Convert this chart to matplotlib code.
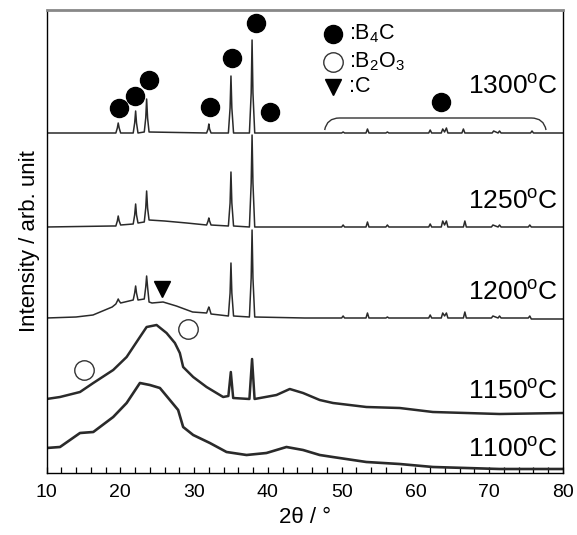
import numpy as np
import matplotlib
matplotlib.use("Agg")
import matplotlib.pyplot as plt
from matplotlib.path import Path
from matplotlib.patches import PathPatch

plt.rcParams['font.family'] = ['Liberation Sans', 'DejaVu Sans']
plt.rcParams['mathtext.fontset'] = 'custom'
plt.rcParams['mathtext.rm'] = 'Liberation Sans'
plt.rcParams['mathtext.it'] = 'Liberation Sans:italic'
plt.rcParams['mathtext.bf'] = 'Liberation Sans:bold'

# ---------------- data (2theta in deg, intensity in arbitrary offset units) -------------
trace_1300 = [(10, 340), (19.4, 340), (19.6, 345), (19.72, 350), (19.85, 345), (20.05, 340),
              (21.75, 340), (21.95, 350), (22.08, 362), (22.2, 350), (22.4, 340),
              (23.25, 341), (23.45, 355), (23.57, 374), (23.7, 355), (23.9, 341),
              (31.7, 340), (31.9, 344), (32.0, 349), (32.1, 344), (32.3, 340),
              (34.65, 340), (34.88, 365), (35.0, 397), (35.12, 365), (35.35, 340),
              (37.5, 340), (37.74, 380), (37.86, 433), (37.98, 380), (38.22, 340),
              (50.0, 340), (50.2, 341), (50.4, 340), (53.3, 340), (53.5, 344), (53.7, 340),
              (56.0, 340), (56.2, 341), (56.4, 340), (61.8, 340), (62.0, 343), (62.2, 340),
              (63.5, 340), (63.7, 344), (63.95, 341), (64.2, 345), (64.4, 340), (66.3, 340), (66.5, 344),
              (66.7, 340), (70.4, 340), (70.6, 342), (71.2, 340), (71.4, 342), (71.6, 340),
              (75.6, 340), (75.8, 342), (76.0, 340), (80, 340)]

trace_1250 = [(10, 246), (18.9, 247), (19.4, 247), (19.6, 252), (19.72, 257), (19.85, 252), (20.05, 248),
              (21.75, 249), (21.95, 258), (22.08, 269), (22.2, 258), (22.4, 250),
              (23.25, 251), (23.45, 265), (23.57, 282), (23.7, 265), (23.9, 253), (26.0, 252), (29.0, 250),
              (31.7, 248), (31.9, 252), (32.0, 255), (32.1, 252), (32.3, 248),
              (34.65, 247), (34.88, 270), (35.0, 301), (35.12, 270), (35.35, 247),
              (37.5, 246), (37.74, 290), (37.86, 338), (37.98, 290), (38.22, 246), (45.0, 246),
              (50.0, 246), (50.2, 248), (50.4, 246), (53.3, 246), (53.5, 251), (53.7, 246),
              (56.0, 246), (56.2, 248), (56.4, 246), (61.8, 246), (62.0, 249), (62.2, 246),
              (63.5, 246), (63.7, 252), (63.95, 248), (64.2, 252), (64.4, 246), (66.5, 246), (66.7, 252),
              (66.9, 246), (70.3, 246), (70.5, 248), (71.2, 246), (71.4, 248), (71.6, 246),
              (75.3, 246), (75.5, 248), (75.7, 246), (80, 246)]

trace_1200 = [(10, 155), (14.0, 156), (16.3, 158), (18.9, 166), (19.4, 169), (19.6, 172), (19.72, 174),
              (19.85, 172), (20.05, 170), (21.75, 173), (21.95, 180), (22.08, 187), (22.2, 180), (22.4, 173),
              (23.25, 174), (23.45, 186), (23.57, 197), (23.7, 186), (23.9, 171),
              (24.3, 170), (25.8, 171), (27.6, 167), (29.8, 161), (31.7, 160), (31.9, 164), (32.0, 166),
              (32.1, 164), (32.3, 159), (33.5, 158), (34.65, 157), (34.88, 180), (35.0, 210), (35.12, 180),
              (35.35, 157), (37.5, 156), (37.74, 195), (37.86, 243), (37.98, 195), (38.22, 156), (45.0, 155),
              (50.0, 155), (50.2, 157), (50.4, 155), (53.3, 155), (53.5, 160), (53.7, 155),
              (56.0, 155), (56.2, 156), (56.4, 155), (61.8, 155), (62.0, 158), (62.2, 155),
              (63.5, 155), (63.7, 160), (63.95, 157), (64.2, 160), (64.4, 155), (66.5, 155), (66.7, 161),
              (66.9, 155), (70.3, 155), (70.5, 157), (71.2, 155), (71.4, 157), (71.6, 155),
              (75.3, 155), (75.5, 157), (75.7, 154), (80, 154)]

trace_1150 = [(10, 74), (11.83, 76), (14.54, 81), (16.34, 90), (19.04, 103), (20.86, 116), (22.66, 136),
              (23.57, 146), (24.92, 148), (26.27, 140), (27.40, 130), (28.07, 120), (28.52, 106),
              (29.88, 96), (31.69, 86), (33.94, 76), (34.65, 77), (34.98, 101), (35.3, 75),
              (37.5, 74), (37.86, 114), (38.2, 74), (41.17, 78), (42.97, 84), (44.77, 80),
              (47.03, 73), (48.83, 70), (53.35, 66), (57.86, 65), (62.37, 61), (66.89, 60),
              (71.40, 59), (80, 60)]

trace_1100 = [(10, 25), (11.83, 26), (14.54, 40), (16.34, 41), (19.04, 56), (20.86, 70), (22.66, 90),
              (24.01, 88), (25.37, 85), (26.72, 73), (27.84, 63), (28.52, 46), (29.88, 38),
              (32.14, 30), (34.40, 21), (37.11, 18), (39.81, 20), (42.52, 26), (44.77, 23),
              (47.03, 18), (48.79, 16), (53.35, 11), (57.86, 9), (62.37, 6), (66.89, 5),
              (71.40, 4), (80, 4)]

traces = [trace_1300, trace_1250, trace_1200, trace_1150, trace_1100]
trace_widths = [1.1, 1.1, 1.1, 1.8, 1.9]
temp_labels = ['1300', '1250', '1200', '1150', '1100']
temp_label_y = [386, 271, 180, 81, 23]

b4c_marks_x = [19.86, 21.98, 23.92, 32.14, 35.2, 38.46, 40.35, 63.5]
b4c_marks_y = [365, 377, 393, 366, 415, 450, 361, 371]
b2o3_marks_x = [15.08, 29.2]
b2o3_marks_y = [103, 144]
c_marks_x = [25.6]
c_marks_y = [184]

legend_labels = [r':B$_4$C', r':B$_2$O$_3$', ':C']
legend_y = [439, 411, 386]

xticks = [10, 20, 30, 40, 50, 60, 70, 80]

# ---------------- figure -------------
fig = plt.figure(figsize=(5.77, 5.35), dpi=100)
ax = fig.add_axes([46.5 / 577, 1 - 473 / 535, (563 - 46.5) / 577, (473 - 10) / 535])

for tr, lw in zip(traces, trace_widths):
    a = np.array(tr)
    ax.plot(a[:, 0], a[:, 1], color='#2a2a2a', lw=lw, solid_joinstyle='round')

ax.plot(b4c_marks_x, b4c_marks_y, 'o', ms=13, color='black', mec='black')
ax.plot(b2o3_marks_x, b2o3_marks_y, 'o', ms=14, mfc='white', mec='#333333', mew=1.0)
ax.plot(c_marks_x, c_marks_y, 'v', ms=11, color='black')

# legend
ax.plot([48.83], [legend_y[0]], 'o', ms=13, color='black')
ax.plot([48.83], [legend_y[1]], 'o', ms=14, mfc='white', mec='#333333', mew=1.0)
ax.plot([48.83], [legend_y[2]], 'v', ms=11, color='black')
for lab, yy in zip(legend_labels, legend_y):
    ax.text(51.0, yy, lab, fontsize=15.5, va='center', ha='left')

for lab, yy in zip(temp_labels, temp_label_y):
    ax.text(79.3, yy, lab + r'$^{\rm o}$C', fontsize=19, va='center', ha='right')

# brace over high-angle peaks
x0, x1, ytop, ybot = 47.7, 77.7, 355, 343
verts = [(x0, ybot), (x0 + 0.3, ytop), (x0 + 2.0, ytop), (x1 - 2.0, ytop), (x1 - 0.3, ytop), (x1, ybot)]
codes = [Path.MOVETO, Path.CURVE3, Path.CURVE3, Path.LINETO, Path.CURVE3, Path.CURVE3]
ax.add_patch(PathPatch(Path(verts, codes), fill=False, lw=1.0, color='#333333'))

ax.set_xlim(10, 80)
ax.set_ylim(0, 463)
ax.set_xticks(xticks)
ax.set_xticks(np.arange(10, 81, 2), minor=True)
ax.tick_params(axis='x', which='both', direction='in', length=4, width=0.9, labelsize=14, pad=8)
ax.set_yticks([])
for s in ['left', 'bottom', 'right']:
    ax.spines[s].set_linewidth(1.0)
ax.spines['top'].set_color('#888888')
ax.spines['top'].set_linewidth(2.0)

ax.set_xlabel('2θ / °', fontsize=16, labelpad=4)
ax.set_ylabel('Intensity / arb. unit', fontsize=16, labelpad=5)

fig.savefig('out.png', dpi=100)
